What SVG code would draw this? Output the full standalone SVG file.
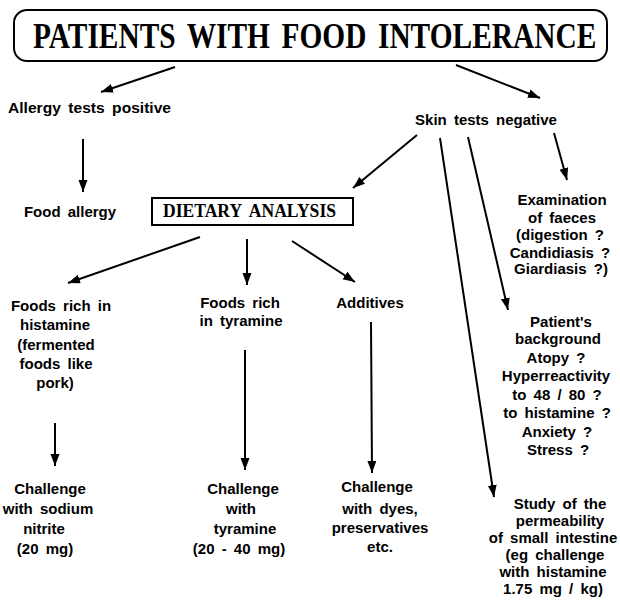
<svg xmlns="http://www.w3.org/2000/svg" width="620" height="600" viewBox="0 0 620 600">
<style>
text{font-family:"Liberation Sans",Arial,sans-serif;font-weight:bold;font-size:15px;fill:#000;word-spacing:3px}
.c{text-anchor:middle}
.serif{font-family:"Liberation Serif","Times New Roman",serif}
.ln{stroke:#000;stroke-width:2;fill:none;marker-end:url(#ah)}
.box{fill:#fff;stroke:#000;stroke-width:2}
</style>
<defs>
<marker id="ah" markerUnits="userSpaceOnUse" markerWidth="13" markerHeight="10" refX="12" refY="4.5" orient="auto">
<path d="M0,0 L12,4.5 L0,9 z" fill="#000"/>
</marker>
</defs>
<rect width="620" height="600" fill="#fff"/>
<g id="title">
<rect class="box" x="14" y="10" width="593" height="51" rx="13"/>
<text class="serif" transform="translate(33,48) scale(0.84,1)" style="font-size:35px;word-spacing:5px">PATIENTS WITH FOOD INTOLERANCE</text>
</g>
<g id="allergy-positive"><text x="8" y="113" textLength="163" lengthAdjust="spacingAndGlyphs">Allergy tests positive</text></g>
<g id="skin-negative"><text class="c" x="486" y="125">Skin tests negative</text></g>
<g id="food-allergy"><text class="c" x="70" y="217">Food allergy</text></g>
<g id="dietary">
<rect class="box" x="152" y="198" width="201" height="27"/>
<text class="serif" x="163" y="217" style="font-size:18px;word-spacing:4px" textLength="173" lengthAdjust="spacingAndGlyphs">DIETARY ANALYSIS</text>
</g>
<g id="examination">
<text class="c" x="562" y="205">Examination</text>
<text class="c" x="562" y="223">of faeces</text>
<text class="c" x="560" y="240">(digestion ?</text>
<text class="c" x="560" y="258">Candidiasis ?</text>
<text class="c" x="561" y="274">Giardiasis ?)</text>
</g>
<g id="histamine-foods">
<text class="c" x="61" y="311">Foods rich in</text>
<text class="c" x="55" y="330">histamine</text>
<text class="c" x="56" y="350">(fermented</text>
<text class="c" x="56" y="369">foods like</text>
<text class="c" x="55" y="388">pork)</text>
</g>
<g id="tyramine-foods">
<text class="c" x="240" y="308">Foods rich</text>
<text class="c" x="241" y="326">in tyramine</text>
</g>
<g id="additives"><text class="c" x="370" y="308">Additives</text></g>
<g id="background">
<text class="c" x="561" y="327">Patient's</text>
<text class="c" x="558" y="344">background</text>
<text class="c" x="556" y="363">Atopy ?</text>
<text class="c" x="556" y="381">Hyperreactivity</text>
<text class="c" x="557" y="400">to 48 / 80 ?</text>
<text class="c" x="557" y="418">to histamine ?</text>
<text class="c" x="557" y="437">Anxiety ?</text>
<text class="c" x="558" y="455">Stress ?</text>
</g>
<g id="challenge-nitrite">
<text class="c" x="50" y="494">Challenge</text>
<text class="c" x="48" y="514">with sodium</text>
<text class="c" x="44" y="534">nitrite</text>
<text class="c" x="45" y="554">(20 mg)</text>
</g>
<g id="challenge-tyramine">
<text class="c" x="243" y="494">Challenge</text>
<text class="c" x="241" y="514">with</text>
<text class="c" x="245" y="534">tyramine</text>
<text class="c" x="239" y="554">(20 - 40 mg)</text>
</g>
<g id="challenge-additives">
<text class="c" x="377" y="492">Challenge</text>
<text class="c" x="380" y="514">with dyes,</text>
<text class="c" x="380" y="533">preservatives</text>
<text class="c" x="380" y="552">etc.</text>
</g>
<g id="permeability">
<text class="c" x="560" y="509">Study of the</text>
<text class="c" x="560" y="526">permeability</text>
<text class="c" x="553" y="543">of small intestine</text>
<text class="c" x="555" y="560">(eg challenge</text>
<text class="c" x="553" y="577">with histamine</text>
<text class="c" x="553" y="594">1.75 mg / kg)</text>
</g>
<g id="connectors">
<line class="ln" x1="175" y1="67" x2="101" y2="92"/>
<line class="ln" x1="456" y1="65" x2="540" y2="98"/>
<line class="ln" x1="83" y1="139" x2="83" y2="192"/>
<line class="ln" x1="417" y1="135" x2="353" y2="188"/>
<line class="ln" x1="554" y1="133" x2="567" y2="180"/>
<line class="ln" x1="468" y1="137" x2="508" y2="310"/>
<line class="ln" x1="440" y1="138" x2="494" y2="497"/>
<line class="ln" x1="200" y1="237" x2="68" y2="283"/>
<line class="ln" x1="247" y1="239" x2="247" y2="285"/>
<line class="ln" x1="292" y1="241" x2="355" y2="282"/>
<line class="ln" x1="55" y1="423" x2="55" y2="466"/>
<line class="ln" x1="245" y1="350" x2="245" y2="470"/>
<line class="ln" x1="371" y1="322" x2="372" y2="473"/>
</g>
</svg>
